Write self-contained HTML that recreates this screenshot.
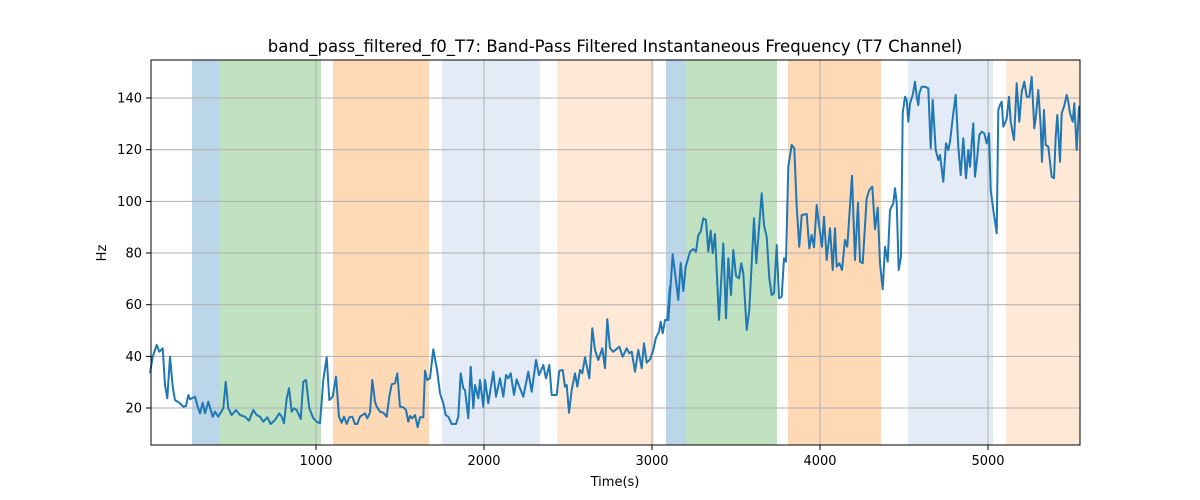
<!DOCTYPE html>
<html><head><meta charset="utf-8"><style>
body{margin:0;background:#fff;}
svg{display:block;font-family:"DejaVu Sans","Liberation Sans",sans-serif;}
</style></head><body>
<svg id="s" width="1200" height="500" viewBox="0 0 1200 500">
<rect width="1200" height="500" fill="#fff"/>
<g id="bands">
<rect x="192" y="60" width="28" height="385" fill="#bbd5e9"/>
<rect x="220" y="60" width="101" height="385" fill="#c0e2c0"/>
<rect x="333" y="60" width="96" height="385" fill="#ffd8b6"/>
<rect x="442" y="60" width="98" height="385" fill="#e3ebf6"/>
<rect x="557" y="60" width="97" height="385" fill="#ffe9d6"/>
<rect x="666" y="60" width="20" height="385" fill="#bbd5e9"/>
<rect x="686" y="60" width="91" height="385" fill="#c0e2c0"/>
<rect x="788" y="60" width="93" height="385" fill="#ffd8b6"/>
<rect x="908" y="60" width="85" height="385" fill="#e3ebf6"/>
<rect x="1006" y="60" width="74" height="385" fill="#ffe9d6"/>
</g>
<g stroke="#b0b0b0" stroke-width="1" id="grid">
<line x1="316" y1="60" x2="316" y2="445"/><line x1="484" y1="60" x2="484" y2="445"/>
<line x1="652" y1="60" x2="652" y2="445"/><line x1="820" y1="60" x2="820" y2="445"/>
<line x1="988" y1="60" x2="988" y2="445"/>
<line x1="151" y1="408" x2="1080" y2="408"/><line x1="151" y1="356.4" x2="1080" y2="356.4"/>
<line x1="151" y1="304.7" x2="1080" y2="304.7"/><line x1="151" y1="253" x2="1080" y2="253"/>
<line x1="151" y1="201.4" x2="1080" y2="201.4"/><line x1="151" y1="149.7" x2="1080" y2="149.7"/>
<line x1="151" y1="98" x2="1080" y2="98"/>
</g>
<polyline id="ln" fill="none" stroke="#1f77b4" stroke-width="2" stroke-linejoin="round"/>
<rect x="151" y="60" width="929" height="385" fill="none" stroke="#000" stroke-width="1"/>
<g stroke="#000">
<line x1="316" y1="445" x2="316" y2="450"/><line x1="484" y1="445" x2="484" y2="450"/>
<line x1="652" y1="445" x2="652" y2="450"/><line x1="820" y1="445" x2="820" y2="450"/>
<line x1="988" y1="445" x2="988" y2="450"/>
<line x1="146" y1="408" x2="151" y2="408"/><line x1="146" y1="356.4" x2="151" y2="356.4"/>
<line x1="146" y1="304.7" x2="151" y2="304.7"/><line x1="146" y1="253" x2="151" y2="253"/>
<line x1="146" y1="201.4" x2="151" y2="201.4"/><line x1="146" y1="149.7" x2="151" y2="149.7"/>
<line x1="146" y1="98" x2="151" y2="98"/>
</g>
<g font-size="13" fill="#000" text-anchor="middle">
<text x="316" y="465">1000</text><text x="484" y="465">2000</text><text x="652" y="465">3000</text>
<text x="820" y="465">4000</text><text x="988" y="465">5000</text>
</g>
<g font-size="13" fill="#000" text-anchor="end">
<text x="142" y="412.5">20</text><text x="142" y="361">40</text><text x="142" y="309">60</text>
<text x="142" y="257.5">80</text><text x="142" y="206">100</text><text x="142" y="154">120</text>
<text x="142" y="102.5">140</text>
</g>
<text x="615" y="486" font-size="13" text-anchor="middle">Time(s)</text>
<text x="106" y="253" font-size="13" text-anchor="middle" transform="rotate(-90 106 253)">Hz</text>
<text x="615" y="52" font-size="16.5" text-anchor="middle">band_pass_filtered_f0_T7: Band-Pass Filtered Instantaneous Frequency (T7 Channel)</text>
</svg>
<script>
var z1=[[0,220],[8,170],[20,135],[28,155],[38,145],[45,255],[52,295],[60,170],[68,260],[75,300],[90,310],[100,320],[108,318],[115,285],[120,298],[135,290],[143,320],[150,340],[158,308],[165,340],[175,305],[188,350],[195,335],[205,350],[220,325],[227,245],[235,325],[245,345],[258,330],[270,345],[285,350],[297,362],[310,330],[320,345],[330,350],[340,365],[352,352],[362,372],[375,360],[388,340],[395,350],[402,370],[410,295],[417,265],[425,335],[432,325],[440,330],[452,357],[460,245],[468,240],[478,325],[490,355],[500,365],[510,370],[520,240],[530,172],[538,300],[548,290],[558,230],[567,350],[575,368],[582,350],[590,372],[598,352],[607,350],[615,372],[622,372],[630,350],[645,340],[652,355],[660,338],[667,240],[675,305],[680,320],[690,335],[700,338],[710,350],[718,290],[725,253],[735,250],[742,220],[750,320],[760,322],[768,330],[775,365],[780,348],[787,355],[795,345],[803,382],[810,352],[820,352],[825,212],[832,240],[840,235],[850,148],[862,215],[870,280],[880,310],[887,345],[895,350],[905,372],[918,372],[925,350],[932,220],[940,265],[945,270],[955,355],[962,200],[970,325],[975,255],[985,295]];
var z2=[[30,300],[40,380],[45,300],[55,370],[70,275],[78,350],[90,295],[100,350],[108,285],[115,295],[122,280],[132,345],[140,298],[150,325],[160,350],[175,275],[185,335],[198,240],[207,285],[220,255],[228,295],[238,255],[245,345],[260,345],[268,272],[278,270],[285,320],[290,315],[297,398],[305,330],[315,280],[322,320],[330,270],[337,280],[345,232],[358,295],[367,145],[375,210],[385,240],[397,205],[405,265],[412,118],[420,205],[430,215],[448,200],[458,230],[470,205],[478,220],[485,215],[495,275],[505,210],[515,265],[522,190],[530,248],[540,238],[550,210],[557,175],[567,155],[572,125],[578,160],[585,120],[592,120],[600,20]];
var z3=[[25,570],[38,373],[55,510],[62,398],[70,483],[77,410],[90,365],[100,357],[108,365],[115,315],[122,305],[130,265],[138,270],[145,365],[152,302],[158,370],[165,312],[177,570],[190,340],[198,565],[205,385],[213,495],[220,360],[228,438],[237,445],[244,400],[250,430],[260,600],[268,540],[282,265],[289,400],[305,190],[312,285],[320,320],[328,445],[335,495],[342,490],[350,345],[357,505],[365,500],[372,385],[378,395],[385,110],[395,45],[403,55],[410,230],[418,350],[425,255],[440,252],[448,355],[455,315],[462,352],[470,225],[477,285],[486,350],[492,260],[500,390],[510,295],[518,420],[525,295],[530,410],[538,400],[546,420],[555,330],[562,350],[576,137],[585,390],[594,218],[600,395],[608,400],[620,205],[628,180],[637,170],[645,298],[653,233],[660,400],[668,478],[675,350],[683,395]];
var z4=[[0,450],[10,430],[15,385],[20,430],[26,630],[33,590],[38,160],[45,110],[50,120],[55,185],[60,130],[68,105],[75,65],[80,110],[85,135],[88,100],[95,80],[105,80],[115,85],[122,265],[128,120],[137,270],[145,300],[150,285],[160,365],[168,250],[175,270],[180,245],[190,160],[197,105],[205,260],[212,345],[220,235],[228,355],[235,270],[240,320],[245,250],[250,190],[255,350],[262,290],[268,225],[275,215],[283,220],[290,250],[297,220],[302,390],[310,450],[320,520],[325,150],[330,135],[335,125],[340,200],[345,190],[350,175],[357,110],[362,185],[372,240],[380,70],[388,185],[395,95],[403,65],[410,110],[418,110],[425,50],[433,205],[437,175],[445,90],[452,200],[456,305],[462,150],[467,255],[475,260],[485,350],[492,355],[497,230],[502,165],[510,305],[515,160],[522,140],[530,105],[535,125],[540,160],[548,185],[553,130],[560,270],[567,140],[570,140]];
var pts=[];
function add(a,ox,oy){a.forEach(function(p){pts.push((ox+p[0]/3).toFixed(1)+","+(oy+p[1]/3).toFixed(1));});}
add(z1,150,300);add(z2,470,280);add(z3,660,130);add(z4,890,60);
document.getElementById("ln").setAttribute("points",pts.join(" "));
</script>
</body></html>
